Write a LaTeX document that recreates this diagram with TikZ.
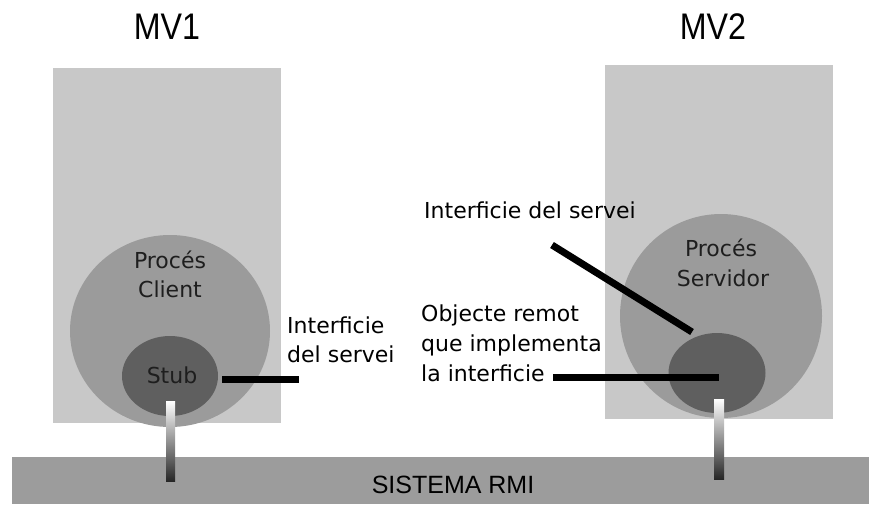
\documentclass[tikz,border=0pt]{standalone}
\usepackage{fontspec}
\setmainfont{DejaVu Sans}
\newfontfamily\titlefont{Liberation Sans}
\usetikzlibrary{shapes.geometric}
\definecolor{boxgray}{HTML}{C8C8C8}
\definecolor{procgray}{HTML}{9B9B9B}
\definecolor{objgray}{HTML}{5F5F5F}
\definecolor{bargray}{HTML}{9C9C9C}
\definecolor{intext}{HTML}{1E1E1E}
\tikzset{
  mvbox/.style={fill=boxgray, draw=none},
  proc/.style={ellipse, fill=procgray, draw=none, inner sep=0},
  obj/.style={ellipse, fill=objgray, draw=none, inner sep=0},
  conn/.style={line width=7pt, draw=black},
  lbl/.style={font=\fontsize{22}{29.5}\selectfont, align=left, inner sep=0, text=black},
  intxt/.style={font=\fontsize{22}{29.5}\selectfont, align=center, inner sep=0, text=intext},
  title/.style={font=\titlefont\fontsize{37}{40}\selectfont, inner sep=0, xscale=0.87},
  pipe/.style={top color=white, bottom color=black!85, draw=none}
}
\begin{document}
\begin{tikzpicture}[x=1pt, y=-1pt]
\useasboundingbox (0,0) rectangle (869,504);
% titles
\node[title, anchor=base] (mv1) at (167,39) {MV1};
\node[title, anchor=base] (mv2) at (713,39) {MV2};
% machine boxes
\fill[mvbox] (53,68) rectangle (281,423);
\fill[mvbox] (605,65) rectangle (833,419);
% processes
\node[proc, minimum width=200pt, minimum height=192pt] (pc) at (170,331) {};
\node[proc, minimum width=202pt, minimum height=204pt] (ps) at (721,316) {};
\node[intxt, anchor=base] (pctxt1) at (170,268) {Procés};
\node[intxt, anchor=base] (pctxt2) at (170,297) {Client};
\node[intxt, anchor=base] (pstxt1) at (721,256) {Procés};
\node[intxt, anchor=base] (pstxt2) at (723,286) {Servidor};
% stub and remote object
\node[obj, minimum width=96pt, minimum height=80pt] (stub) at (170,376) {};
\node[intxt, anchor=base] (stubtxt) at (172,383) {Stub};
\node[obj, minimum width=97pt, minimum height=80pt] (remote) at (717,373) {};
% bottom bar
\fill[bargray] (12,457) rectangle (869,504);
\node[font=\titlefont\fontsize{25}{28}\selectfont, anchor=base, inner sep=0] (rmi) at (453,493) {SISTEMA RMI};
% pipes
\shade[pipe] (166,401) rectangle (175,481);
\shade[pipe] (714,399) rectangle (724,479);
% labels
\node[lbl, anchor=base west] (li1) at (287,333) {Interficie};
\node[lbl, anchor=base west] (li2) at (287,362) {del servei};
\node[lbl, anchor=base west] (ri) at (424,218) {Interficie del servei};
\node[lbl, anchor=base west] (ro1) at (421,321) {Objecte remot};
\node[lbl, anchor=base west] (ro2) at (421,351) {que implementa};
\node[lbl, anchor=base west] (ro3) at (421,381) {la interficie};
% connectors
\coordinate (stubR) at (222,379);
\coordinate (liL) at (299,379);
\draw[conn] (stubR) -- (liL);
\coordinate (riEnd) at (552,245);
\coordinate (remTop) at (692,332);
\draw[conn] (riEnd) -- (remTop);
\coordinate (roEnd) at (553,377);
\coordinate (remC) at (719,377);
\draw[conn] (roEnd) -- (remC);
\end{tikzpicture}
\end{document}
